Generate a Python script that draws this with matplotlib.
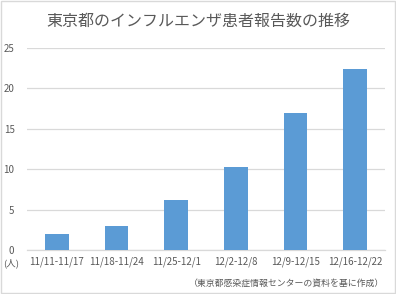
import matplotlib.pyplot as plt
from matplotlib.patches import Rectangle

plt.rcParams['font.family'] = ['Noto Sans CJK JP', 'DejaVu Sans']

# Weekly flu patient reports, Tokyo
weeks = ['11/11-11/17', '11/18-11/24', '11/25-12/1', '12/2-12/8', '12/9-12/15', '12/16-12/22']
patients = [2.0, 3.0, 6.15, 10.3, 16.9, 22.4]
y_ticks = [0, 5, 10, 15, 20, 25]

title = '東京都のインフルエンザ患者報告数の推移'
unit_label = '(人)'
source = '（東京都感染症情報センターの資料を基に作成）'

text_color = '#595959'
bar_color = '#5B9BD5'

fig = plt.figure(figsize=(3.96, 2.94), dpi=100)
ax = fig.add_axes([27 / 396, 1 - 250 / 294, 358 / 396, 202 / 294])

x = range(len(weeks))
ax.bar(x, patients, width=0.4, color=bar_color, zorder=3)
ax.set_xlim(-0.5, len(weeks) - 0.5)
ax.set_ylim(0, 25)
ax.set_yticks(y_ticks)
ax.set_xticks(list(x))
ax.set_xticklabels(weeks)
ax.tick_params(axis='both', length=0, colors=text_color, labelsize=7.0)
ax.tick_params(axis='y', pad=9)
ax.tick_params(axis='x', pad=5)
ax.grid(axis='y', color='#D9D9D9', linewidth=0.9, zorder=0)
for side in ['top', 'right', 'left']:
    ax.spines[side].set_visible(False)
ax.spines['bottom'].set_color('#D9D9D9')
ax.spines['bottom'].set_linewidth(0.9)

fig.text(198 / 396, 1 - 21 / 294, title, ha='center', va='center',
         fontsize=11.5, color=text_color)
fig.text(3 / 396, 1 - 263 / 294, unit_label, ha='left', va='center',
         fontsize=6.8, color=text_color)
fig.text(384 / 396, 1 - 283 / 294, source, ha='right', va='center',
         fontsize=6.4, color=text_color)

# light frame around the whole chart
fig.patches.append(Rectangle((0.002, 0.002), 0.995, 0.995, transform=fig.transFigure,
                             fill=False, edgecolor='#D9D9D9', linewidth=1))

fig.savefig('out.png', dpi=100, facecolor='white')
